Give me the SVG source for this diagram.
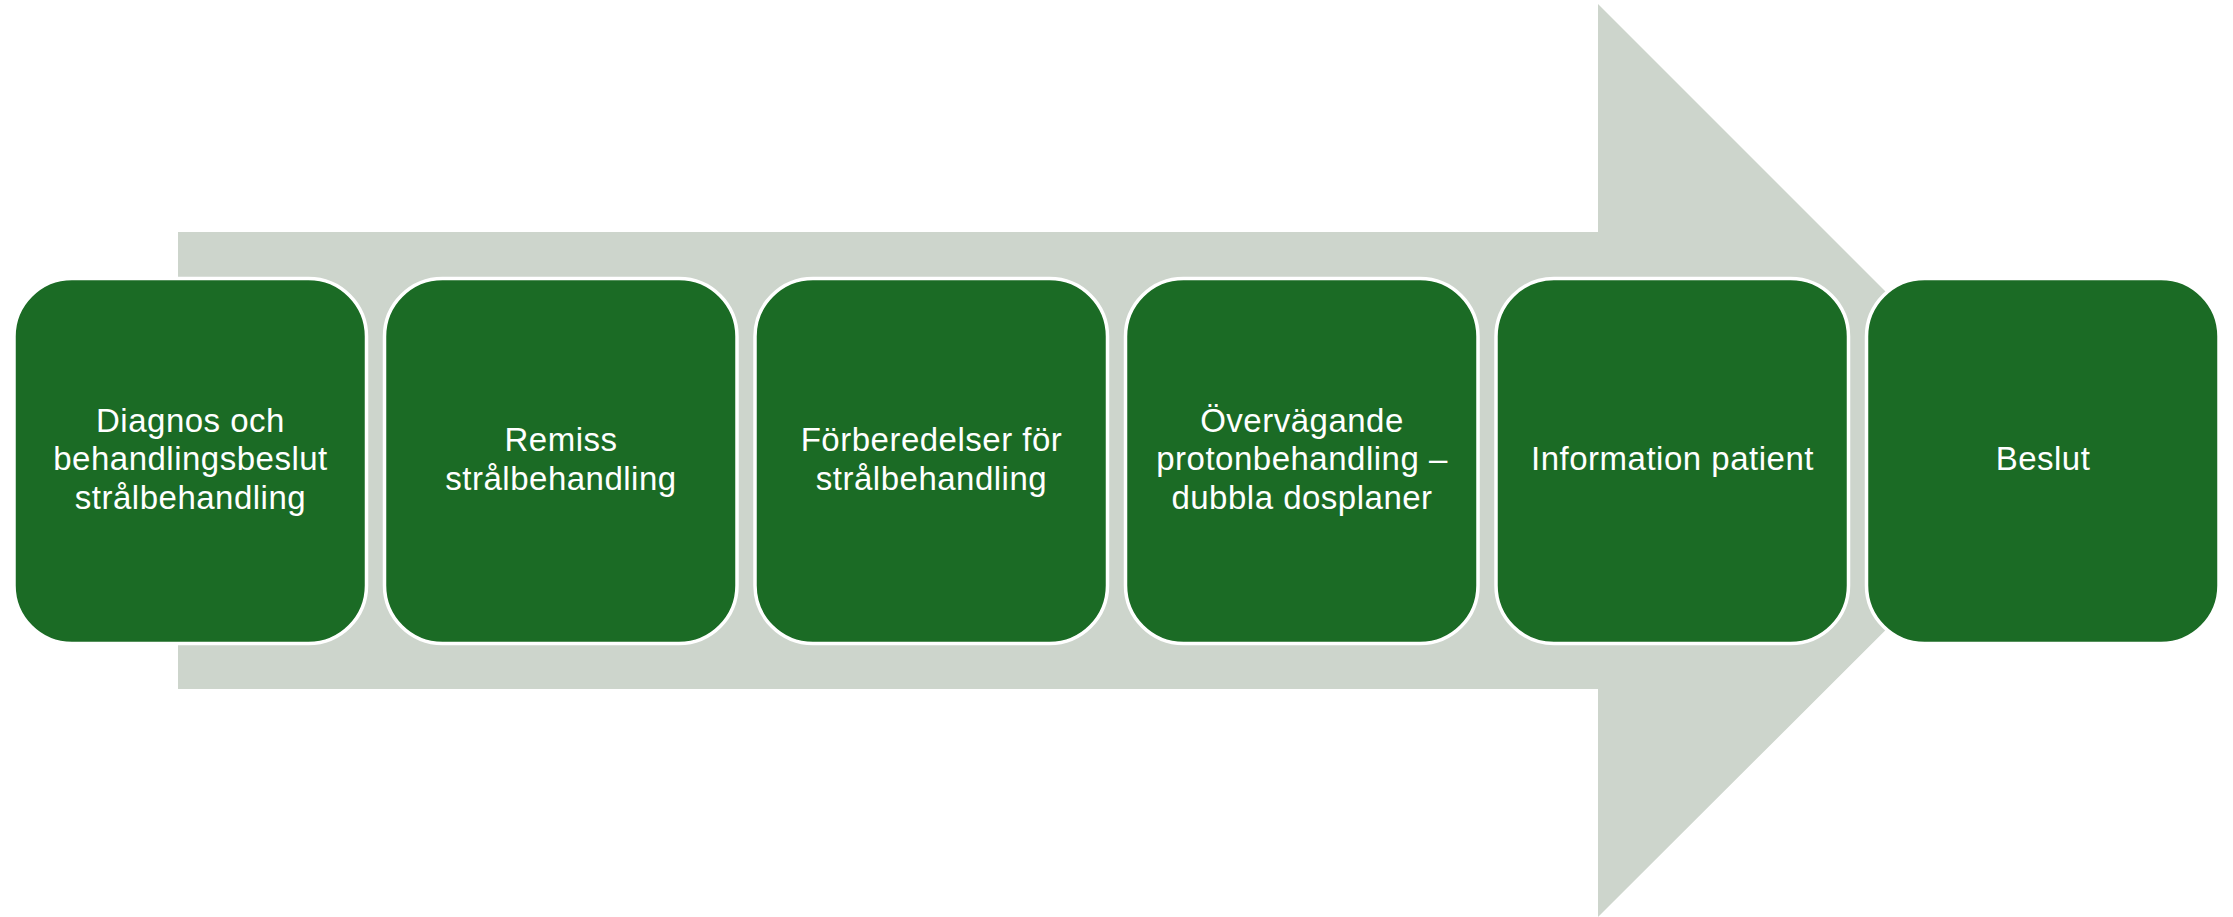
<svg xmlns="http://www.w3.org/2000/svg" width="2233" height="917" viewBox="0 0 2233 917">
<style>
.bg{fill:#ffffff}
.arrow{fill:#CDD5CC}
.box{fill:#1B6B25;stroke:#ffffff;stroke-width:3.5}
.lbl{fill:#ffffff;font-family:"Liberation Sans",Arial,sans-serif;font-size:33px;letter-spacing:0.5px;text-anchor:middle}
</style>
<rect class="bg" x="0" y="0" width="2233" height="917"/>
<g id="arrow">
<polygon class="arrow" points="178,232 1598,232 1598,4 2055,461 1598,917 1598,689 178,689"/>
</g>
<g id="connectors"></g>
<g id="n1">
<rect class="box" x="14" y="278.5" width="352.5" height="365" rx="58" ry="58"/>
<text class="lbl" x="190.5" y="431.5">Diagnos och</text>
<text class="lbl" x="190.5" y="470">behandlingsbeslut</text>
<text class="lbl" x="190.5" y="508.5">strålbehandling</text>
</g>
<g id="n2">
<rect class="box" x="384.5" y="278.5" width="352.5" height="365" rx="58" ry="58"/>
<text class="lbl" x="561" y="451">Remiss</text>
<text class="lbl" x="561" y="489.5">strålbehandling</text>
</g>
<g id="n3">
<rect class="box" x="755" y="278.5" width="352.5" height="365" rx="58" ry="58"/>
<text class="lbl" x="931.5" y="451">Förberedelser för</text>
<text class="lbl" x="931.5" y="489.5">strålbehandling</text>
</g>
<g id="n4">
<rect class="box" x="1125.5" y="278.5" width="352.5" height="365" rx="58" ry="58"/>
<text class="lbl" x="1302" y="431.5">Övervägande</text>
<text class="lbl" x="1302" y="470">protonbehandling –</text>
<text class="lbl" x="1302" y="508.5">dubbla dosplaner</text>
</g>
<g id="n5">
<rect class="box" x="1496" y="278.5" width="352.5" height="365" rx="58" ry="58"/>
<text class="lbl" x="1672.5" y="470">Information patient</text>
</g>
<g id="n6">
<rect class="box" x="1866.5" y="278.5" width="352.5" height="365" rx="58" ry="58"/>
<text class="lbl" x="2043" y="470">Beslut</text>
</g>
</svg>
